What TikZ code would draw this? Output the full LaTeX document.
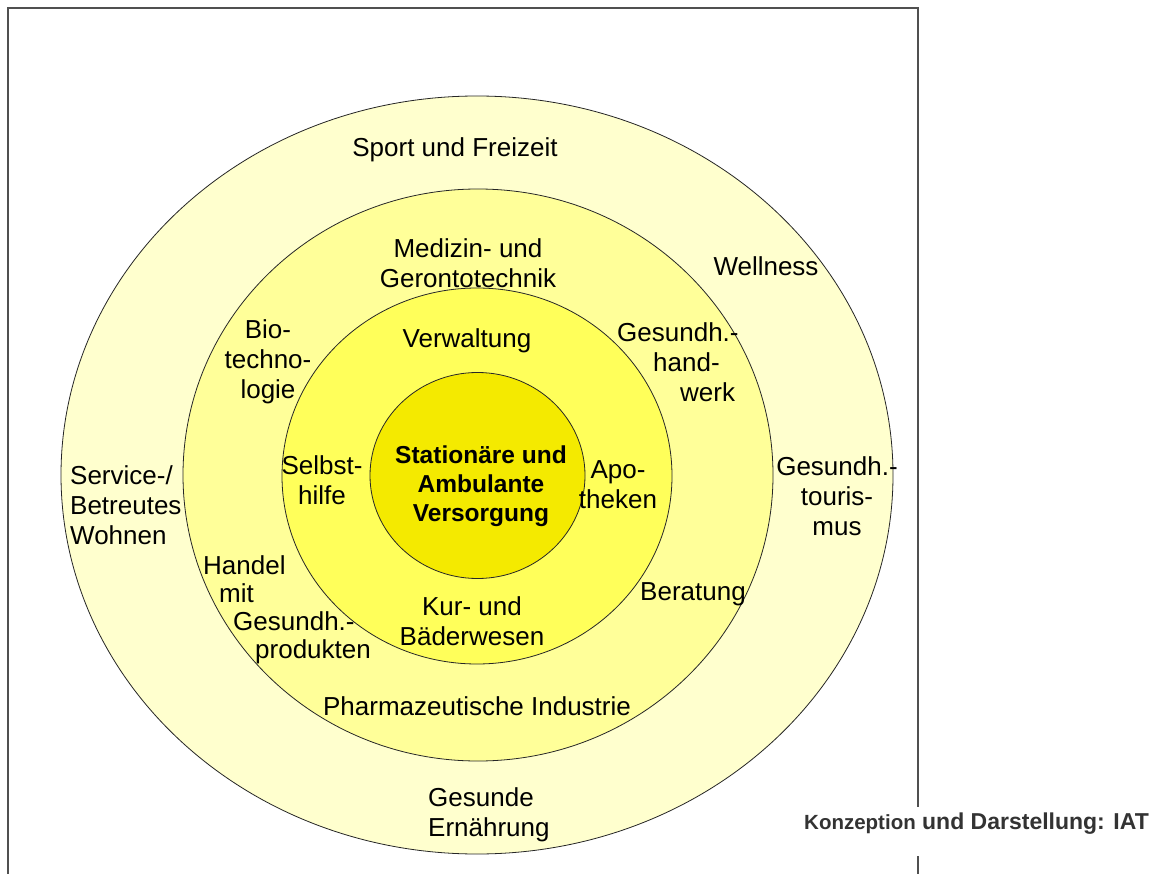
\documentclass[tikz,border=0pt]{standalone}
\usepackage{fontspec}
\setmainfont{Liberation Sans}
\definecolor{ringA}{RGB}{255,255,206}
\definecolor{ringB}{RGB}{255,255,153}
\definecolor{ringC}{RGB}{255,255,90}
\definecolor{coreY}{RGB}{244,234,0}
\definecolor{frameG}{RGB}{80,80,80}
\definecolor{noteG}{RGB}{51,51,51}
\begin{document}
\begin{tikzpicture}[x=1pt,y=-1pt,
  ring/.style={draw=black!85,line width=0.8pt},
  lbl/.style={inner sep=0pt,font=\fontsize{26}{30}\selectfont,text=black},
  lbltight/.style={inner sep=0pt,font=\fontsize{26}{28}\selectfont,text=black},
  corelbl/.style={inner sep=0pt,font=\fontsize{24.5}{29}\selectfont\bfseries,text=black,align=center},
  framel/.style={draw=frameG,line width=1.6pt}]
\useasboundingbox (0,0) rectangle (1172,874);
\fill[white] (0,0) rectangle (1172,874);
% frame
\draw[framel] (8,874) -- (8,8) -- (918,8) -- (918,807);
\draw[framel] (918,856) -- (918,874);
% rings
\filldraw[ring,fill=ringA] (477,475) ellipse [x radius=416,y radius=379];
\filldraw[ring,fill=ringB] (478,475) ellipse [x radius=295,y radius=286];
\filldraw[ring,fill=ringC] (477,476) ellipse [x radius=195,y radius=188];
\filldraw[ring,fill=coreY] (477.5,475.5) ellipse [x radius=107.5,y radius=103];
% labels
\node[lbl] (sport) at (455,150) {Sport und Freizeit};
\node[lbl,align=center] (medizin) at (468,263) {Medizin- und\\Gerontotechnik};
\node[lbl] (verw) at (467,341) {Verwaltung};
\node[lbl,align=center] (bio) at (268,362) {Bio-\\techno-\\logie};
\node[lbl,align=left,anchor=west] (handwerk) at (617,362) {Gesundh.-\\\hspace*{36pt}hand-\\\hspace*{63pt}werk};
\node[lbl] (well) at (766,266) {Wellness};
\node[lbl,align=center] (selbst) at (322,480) {Selbst-\\hilfe};
\node[lbl,align=left,anchor=west] (service) at (70,505) {Service-/\\Betreutes\\Wohnen};
\node[lbltight,align=left,anchor=west] (handel) at (203,610) {Handel\\\hspace*{16pt}mit\\\hspace*{30pt}Gesundh.-\\\hspace*{52pt}produkten};
\node[lbl,align=center] (apo) at (618,485) {Apo-\\theken};
\node[lbl,align=center] (tour) at (837,496) {Gesundh.-\\touris-\\mus};
\node[lbl] (berat) at (693,594) {Beratung};
\node[lbl,align=center] (kur) at (472,621) {Kur- und\\Bäderwesen};
\node[lbl] (pharma) at (477,706) {Pharmazeutische Industrie};
\node[lbl,align=left,anchor=west] (ernae) at (428,815) {Gesunde\\Ernährung};
\node[corelbl] (core) at (481,486) {Stationäre und\\Ambulante\\Versorgung};
\node[inner sep=0pt,anchor=base west,text=noteG,font=\bfseries] (credit) at (804,829)
  {{\fontsize{20.5}{24}\selectfont Konzeption}{\fontsize{23}{24}\selectfont\ und Darstellung: IAT}};
\end{tikzpicture}
\end{document}
